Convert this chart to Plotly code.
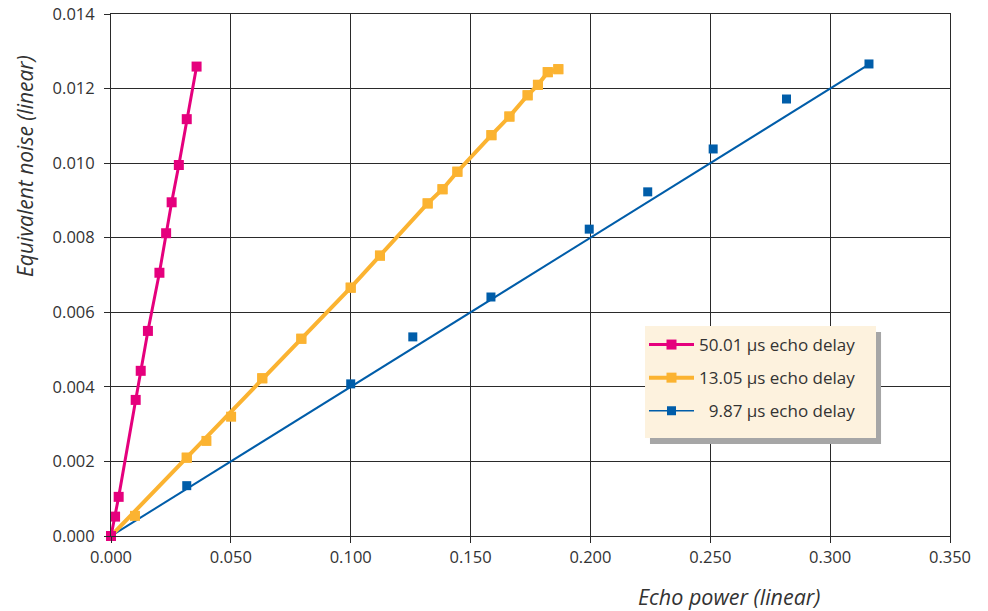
import plotly.graph_objects as go

# Echo delay 50.01 us: measured points (joined by a line)
PINK_X = [0.0, 0.0017, 0.0032, 0.0103, 0.0124, 0.0154, 0.0202, 0.0230, 0.0253, 0.0283, 0.0316, 0.0357]
PINK_Y = [0.0, 0.00052, 0.00105, 0.00365, 0.00443, 0.00550, 0.00706, 0.00812, 0.00895, 0.00995, 0.01118, 0.01259]

# Echo delay 13.05 us: measured points
ORANGE_X = [0.0, 0.0100, 0.0316, 0.0398, 0.0501, 0.0631, 0.0794, 0.1000, 0.1122, 0.1321, 0.1383,
            0.1445, 0.1587, 0.1662, 0.1738, 0.1781, 0.1822, 0.1866]
ORANGE_Y = [0.0, 0.00054, 0.00210, 0.00255, 0.00320, 0.00423, 0.00529, 0.00666, 0.00752, 0.00892, 0.00930,
            0.00977, 0.01075, 0.01125, 0.01182, 0.01210, 0.01244, 0.01252]
# points that the orange curve passes through (the rest are shown as markers only)
ORANGE_CURVE_IDX = [0, 2, 5, 6, 7, 8, 9, 10, 11, 12, 13, 14, 15, 16, 17]

# Echo delay 9.87 us: measured points and a straight-line fit through the origin
BLUE_X = [0.0, 0.0316, 0.1000, 0.1259, 0.1585, 0.1995, 0.2239, 0.2512, 0.2818, 0.3162]
BLUE_Y = [0.0, 0.00135, 0.00408, 0.00534, 0.00641, 0.00823, 0.00923, 0.01038, 0.01172, 0.01266]
BLUE_FIT_SLOPE = 0.04

LABELS = ["50.01 µs echo delay", "13.05 µs echo delay", "\u20079.87 µs echo delay"]

PINK = "#E5007D"
ORANGE = "#FBB331"
BLUE = "#005DA9"
FONT = "Open Sans"
TEXT = "#333333"
GRID = "#2a2a2a"

fig = go.Figure()

# blue: fit line + measured markers
fit_x = [0.0, max(BLUE_X)]
fit_y = [BLUE_FIT_SLOPE * v for v in fit_x]
fig.add_trace(go.Scatter(x=fit_x, y=fit_y, mode="lines", line=dict(color=BLUE, width=2),
                         showlegend=False, hoverinfo="skip"))
fig.add_trace(go.Scatter(x=BLUE_X, y=BLUE_Y, mode="markers", cliponaxis=False,
                         marker=dict(symbol="square", size=9, color=BLUE), showlegend=False))
fig.add_trace(go.Scatter(x=[None], y=[None], mode="lines+markers", name=LABELS[2],
                         line=dict(color=BLUE, width=1.5),
                         marker=dict(symbol="square", size=9, color=BLUE),
                         legendrank=3, legendgroup="c"))

# orange: curve through selected points, markers for all
fig.add_trace(go.Scatter(x=[ORANGE_X[i] for i in ORANGE_CURVE_IDX],
                         y=[ORANGE_Y[i] for i in ORANGE_CURVE_IDX],
                         mode="lines+markers", name=LABELS[1],
                         line=dict(color=ORANGE, width=4),
                         marker=dict(symbol="square", size=10, color=ORANGE),
                         legendrank=2, legendgroup="b"))
fig.add_trace(go.Scatter(x=ORANGE_X, y=ORANGE_Y, mode="markers", cliponaxis=False,
                         marker=dict(symbol="square", size=10, color=ORANGE), showlegend=False))

# pink
fig.add_trace(go.Scatter(x=PINK_X, y=PINK_Y, mode="lines+markers", name=LABELS[0],
                         cliponaxis=False,
                         line=dict(color=PINK, width=3),
                         marker=dict(symbol="square", size=10, color=PINK),
                         legendrank=1, legendgroup="a"))

axis_common = dict(
    showgrid=True, gridcolor=GRID, gridwidth=1,
    showline=True, linecolor=GRID, linewidth=1, mirror=True,
    ticks="outside", ticklen=6, tickcolor=GRID, tickwidth=1,
    zeroline=False, tickformat=".3f", automargin=False,
    tickfont=dict(family=FONT, size=16.5, color=TEXT),
)

fig.update_xaxes(range=[0, 0.35], dtick=0.05, tick0=0, **axis_common)
fig.update_yaxes(range=[0, 0.014], dtick=0.002, tick0=0, ticklabelstandoff=6, **axis_common)

# legend panel: drop shadow, then cream background
fig.add_shape(type="rect", xref="paper", yref="paper",
              x0=0.6424, x1=0.9178, y0=0.1762, y1=0.3908,
              fillcolor="#A6A6A6", line=dict(width=0), layer="above")
fig.add_shape(type="rect", xref="paper", yref="paper",
              x0=0.6365, x1=0.9118, y0=0.1877, y1=0.4023,
              fillcolor="#FDF2DE", line=dict(width=0), layer="above")

fig.update_layout(
    width=988, height=611,
    margin=dict(l=111, r=38, t=14, b=75),
    paper_bgcolor="white", plot_bgcolor="white",
    font=dict(family=FONT, color=TEXT),
    legend=dict(x=(644 - 111) / 839, y=(536 - 327) / 522, xanchor="left", yanchor="top",
                bgcolor="rgba(0,0,0,0)", borderwidth=0,
                font=dict(family=FONT, size=17, color=TEXT),
                itemwidth=45, tracegroupgap=8),
    annotations=[
        dict(text="<i>Echo power (linear)</i>", xref="paper", yref="paper",
             x=(729 - 111) / 839, y=(536 - 596) / 522, xanchor="center", yanchor="middle",
             showarrow=False, font=dict(family=FONT, size=21.5, color=TEXT)),
        dict(text="<i>Equivalent noise (linear)</i>", xref="paper", yref="paper",
             x=(25 - 111) / 839, y=(536 - 166) / 522, xanchor="center", yanchor="middle",
             showarrow=False, textangle=-90, font=dict(family=FONT, size=21, color=TEXT)),
    ],
)

fig.write_html("out.html")
